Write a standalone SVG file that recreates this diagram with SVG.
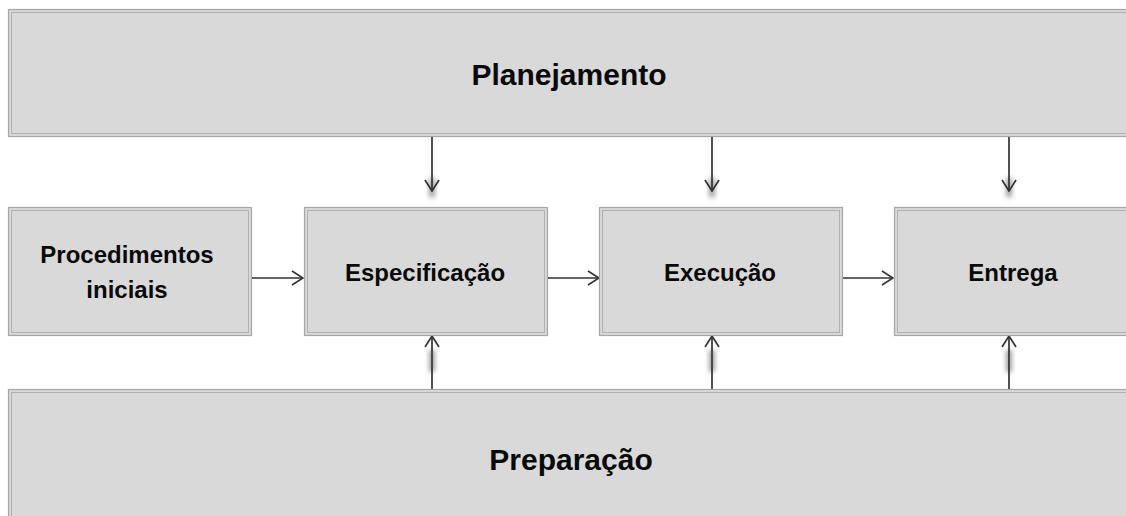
<svg xmlns="http://www.w3.org/2000/svg" width="1126" height="516" viewBox="0 0 1126 516">
<defs>
<style>
.box{fill:#d9d9d9;stroke:#a6a6a6;stroke-width:1.2}
.inner{fill:none;stroke:#b0b0b0;stroke-width:1}
.t{font-family:"Liberation Sans",Arial,sans-serif;font-weight:bold;fill:#0a0a0a;text-anchor:middle}
.big{font-size:30px}
.mid{font-size:24px}
.c{stroke:#333;stroke-width:1.7;fill:none}
.sh{stroke:#000;stroke-opacity:0.45;stroke-width:5;fill:none;filter:url(#blur)}
</style>
<filter id="blur" x="-50%" y="-50%" width="200%" height="200%"><feGaussianBlur stdDeviation="2.5"/></filter>
<marker id="ah" viewBox="0 0 13 16" refX="12" refY="8" markerWidth="13" markerHeight="16" markerUnits="userSpaceOnUse" orient="auto">
<path d="M1,1 L12,8 L1,15" fill="none" stroke="#333" stroke-width="1.7"/>
</marker>
</defs>
<rect width="1126" height="516" fill="#fff"/>
<g id="connectors">
<g>
<path class="sh" d="M432,178 V197 M712,178 V197 M1009,178 V197"/>
<path class="sh" d="M432,350 V372 M712,350 V372 M1009,350 V372"/>
<path class="sh" d="M255,285 H300 M548,285 H595 M843,285 H890"/>
</g>
<path class="c" d="M432,137 V191" marker-end="url(#ah)"/>
<path class="c" d="M712,137 V191" marker-end="url(#ah)"/>
<path class="c" d="M1009,137 V191" marker-end="url(#ah)"/>
<path class="c" d="M432,389 V336" marker-end="url(#ah)"/>
<path class="c" d="M712,389 V336" marker-end="url(#ah)"/>
<path class="c" d="M1009,389 V336" marker-end="url(#ah)"/>
<path class="c" d="M251,278 H303" marker-end="url(#ah)"/>
<path class="c" d="M547,278 H599" marker-end="url(#ah)"/>
<path class="c" d="M842,278 H893" marker-end="url(#ah)"/>
</g>
<g id="planejamento">
<rect class="box" x="8.5" y="9.5" width="1140" height="127"/>
<rect class="inner" x="11.5" y="12.5" width="1134" height="121"/>
<text class="t big" x="569" y="85">Planejamento</text>
</g>
<g id="procedimentos">
<rect class="box" x="8.5" y="207.5" width="243" height="128"/>
<rect class="inner" x="11.5" y="210.5" width="237" height="122"/>
<text class="t mid" x="127" y="263">Procedimentos</text>
<text class="t mid" x="127" y="298">iniciais</text>
</g>
<g id="especificacao">
<rect class="box" x="304.5" y="207.5" width="243" height="128"/>
<rect class="inner" x="307.5" y="210.5" width="237" height="122"/>
<text class="t mid" x="425" y="281">Especificação</text>
</g>
<g id="execucao">
<rect class="box" x="599.5" y="207.5" width="243" height="128"/>
<rect class="inner" x="602.5" y="210.5" width="237" height="122"/>
<text class="t mid" x="720" y="281">Execução</text>
</g>
<g id="entrega">
<rect class="box" x="894.5" y="207.5" width="243" height="128"/>
<rect class="inner" x="897.5" y="210.5" width="237" height="122"/>
<text class="t mid" x="1013" y="281">Entrega</text>
</g>
<g id="preparacao">
<rect class="box" x="8.5" y="389.5" width="1140" height="140"/>
<rect class="inner" x="11.5" y="392.5" width="1134" height="134"/>
<text class="t big" x="571" y="470">Preparação</text>
</g>
</svg>
